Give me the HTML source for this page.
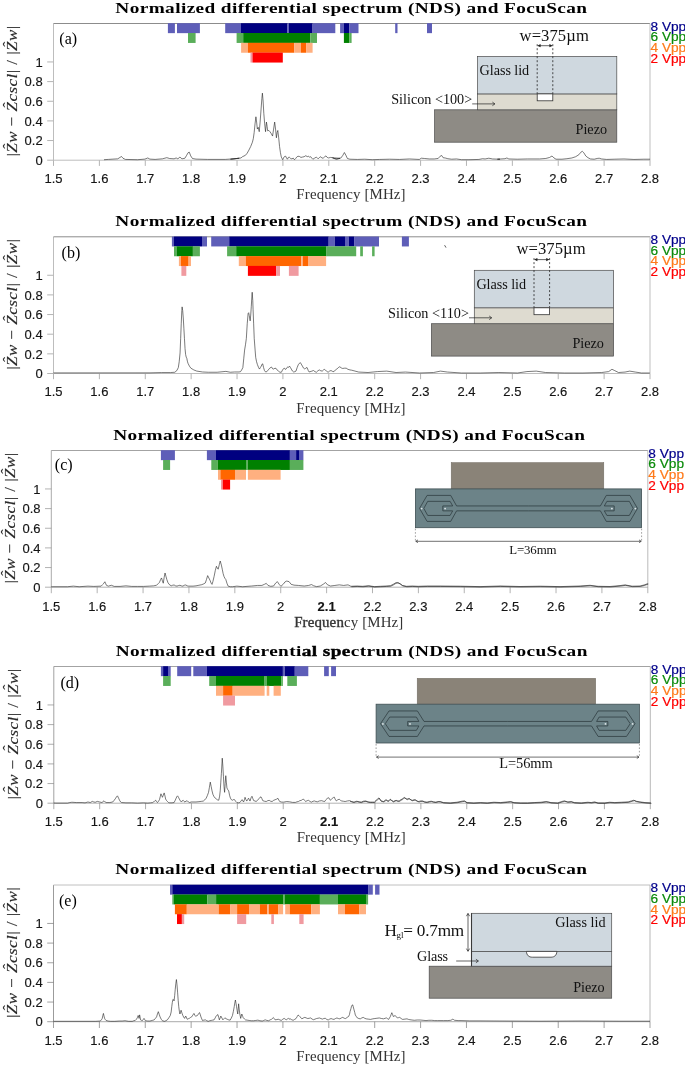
<!DOCTYPE html>
<html lang="en"><head><meta charset="utf-8"><title>Normalized differential spectrum (NDS) and FocuScan</title>
<style>html,body{margin:0;padding:0;background:#fff}body{width:685px;height:1065px;overflow:hidden}svg{display:block;will-change:transform}text{white-space:pre}</style></head><body>
<svg width="685" height="1065" viewBox="0 0 685 1065">
<rect width="685" height="1065" fill="#fff"/>
<!-- panel a -->
<g transform="translate(0,0)">
<text transform="translate(351.4,12.6) scale(1.27,1)" x="0" y="0" text-anchor="middle" font-family='"Liberation Serif", serif' font-weight="bold" font-size="15.2" letter-spacing="0.305" fill="#000">Normalized differential spectrum (NDS) and FocuScan</text>
<path d="M53.5 160.2V23.5" fill="none" stroke="#bdbdbd" stroke-width="1"/>
<path d="M53.5 23.5H650.0" fill="none" stroke="#8c8c8c" stroke-width="1"/>
<path d="M650.0 23.5V160.2" fill="none" stroke="#cacaca" stroke-width="1.2"/>
<path d="M53.5 160.2H650.0" fill="none" stroke="#bdbdbd" stroke-width="1"/>
<path d="M53.5 160.2v5.7M99.38 160.2v5.7M145.27 160.2v5.7M191.15 160.2v5.7M237.04 160.2v5.7M282.92 160.2v5.7M328.81 160.2v5.7M374.69 160.2v5.7M420.58 160.2v5.7M466.46 160.2v5.7M512.35 160.2v5.7M558.23 160.2v5.7M604.12 160.2v5.7M650 160.2v5.7M53.5 160.2h-6.3M53.5 140.55h-6.3M53.5 120.9h-6.3M53.5 101.25h-6.3M53.5 81.6h-6.3M53.5 61.95h-6.3" fill="none" stroke="#b4b4b4" stroke-width="1"/>
<g font-family='"Liberation Sans", sans-serif' font-size="13" fill="#141414" stroke="#141414" stroke-width="0.15">
<text x="53.5" y="183.2" text-anchor="middle">1.5</text>
<text x="99.38" y="183.2" text-anchor="middle">1.6</text>
<text x="145.27" y="183.2" text-anchor="middle">1.7</text>
<text x="191.15" y="183.2" text-anchor="middle">1.8</text>
<text x="237.04" y="183.2" text-anchor="middle">1.9</text>
<text x="282.92" y="183.2" text-anchor="middle">2</text>
<text x="328.81" y="183.2" text-anchor="middle">2.1</text>
<text x="374.69" y="183.2" text-anchor="middle">2.2</text>
<text x="420.58" y="183.2" text-anchor="middle">2.3</text>
<text x="466.46" y="183.2" text-anchor="middle">2.4</text>
<text x="512.35" y="183.2" text-anchor="middle">2.5</text>
<text x="558.23" y="183.2" text-anchor="middle">2.6</text>
<text x="604.12" y="183.2" text-anchor="middle">2.7</text>
<text x="650" y="183.2" text-anchor="middle">2.8</text>
<text x="42.7" y="164.9" text-anchor="end">0</text>
<text x="42.7" y="145.25" text-anchor="end">0.2</text>
<text x="42.7" y="125.6" text-anchor="end">0.4</text>
<text x="42.7" y="105.95" text-anchor="end">0.6</text>
<text x="42.7" y="86.3" text-anchor="end">0.8</text>
<text x="42.7" y="66.65" text-anchor="end">1</text>
</g>
<text transform="translate(351,198.8) scale(1.06,1)" text-anchor="middle" font-family='"Liberation Serif", serif' font-size="14.1" letter-spacing="0.12" fill="#333">Frequency [MHz]</text>
<g transform="translate(17.4,91.1) rotate(-90) scale(1.1,1)" font-family='"Liberation Serif", serif' font-size="15.5" fill="#2a2a2a" stroke="#2a2a2a" stroke-width="0.15">
<text x="-59.51" y="0" letter-spacing="0.41">|<tspan font-style="italic">Zw</tspan> &#x2212; <tspan font-style="italic">Zcscl</tspan>| / |<tspan font-style="italic">Zw</tspan>|</text>
<text x="-50.1" y="-4.6" text-anchor="middle" font-size="14">&#x2C6;</text>
<text x="-12.55" y="-4.6" text-anchor="middle" font-size="14">&#x2C6;</text>
<text x="42.55" y="-4.6" text-anchor="middle" font-size="14">&#x2C6;</text>
</g>
<text x="59.3" y="43.8" font-family='"Liberation Serif", serif' font-size="16" fill="#000">(a)</text>
<text transform="translate(650.5,30.7) scale(1.035,0.9)" font-family='"Liberation Sans", sans-serif' font-size="13.2" fill="#00008b" stroke="#00008b" stroke-width="0.2">8 Vpp</text>
<text transform="translate(650.5,41.35) scale(1.035,0.9)" font-family='"Liberation Sans", sans-serif' font-size="13.2" fill="#0a8a0a" stroke="#0a8a0a" stroke-width="0.2">6 Vpp</text>
<text transform="translate(650.5,52) scale(1.035,0.9)" font-family='"Liberation Sans", sans-serif' font-size="13.2" fill="#ff7a1a" stroke="#ff7a1a" stroke-width="0.2">4 Vpp</text>
<text transform="translate(650.5,62.65) scale(1.035,0.9)" font-family='"Liberation Sans", sans-serif' font-size="13.2" fill="#ff0000" stroke="#ff0000" stroke-width="0.2">2 Vpp</text>
</g>
<rect x="167.9" y="23.2" width="7" height="9.95" fill="#5e5eb8"/>
<rect x="177" y="23.2" width="22.9" height="9.95" fill="#5e5eb8"/>
<rect x="225.2" y="23.2" width="15.8" height="9.95" fill="#5e5eb8"/>
<rect x="241" y="23.2" width="46.5" height="9.95" fill="#000080"/>
<rect x="287.5" y="23.2" width="1.4" height="9.95" fill="#5e5eb8"/>
<rect x="288.9" y="23.2" width="23.7" height="9.95" fill="#000080"/>
<rect x="312.6" y="23.2" width="22.7" height="9.95" fill="#5e5eb8"/>
<rect x="340.1" y="23.2" width="3.8" height="9.95" fill="#5e5eb8"/>
<rect x="343.9" y="23.2" width="5.3" height="9.95" fill="#000080"/>
<rect x="349.2" y="23.2" width="9.3" height="9.95" fill="#5e5eb8"/>
<rect x="395.2" y="23.2" width="2.3" height="9.95" fill="#5e5eb8"/>
<rect x="427" y="23.2" width="5" height="9.95" fill="#5e5eb8"/>
<rect x="188" y="33" width="7.6" height="9.95" fill="#5aae5a"/>
<rect x="236.6" y="33" width="6.6" height="9.95" fill="#5aae5a"/>
<rect x="243.2" y="33" width="67.1" height="9.95" fill="#008000"/>
<rect x="310.3" y="33" width="6.7" height="9.95" fill="#5aae5a"/>
<rect x="343.9" y="33" width="5.3" height="9.95" fill="#008000"/>
<rect x="349.2" y="33" width="2.4" height="9.95" fill="#5aae5a"/>
<rect x="241.1" y="42.8" width="6.8" height="9.95" fill="#ffb080"/>
<rect x="247.9" y="42.8" width="46.3" height="9.95" fill="#ff6600"/>
<rect x="294.2" y="42.8" width="6.8" height="9.95" fill="#ffb080"/>
<rect x="301" y="42.8" width="5.1" height="9.95" fill="#ff6600"/>
<rect x="306.1" y="42.8" width="6.5" height="9.95" fill="#ffb080"/>
<rect x="250.5" y="52.6" width="2" height="9.95" fill="#f09aa0"/>
<rect x="252.5" y="52.6" width="30.3" height="9.95" fill="#ff0000"/>
<path d="M104.01,159.71 108.39,159.42 117.74,158.83 120.07,157.37 121.53,156.5 122.99,158.25 125.33,159.42 137.59,159.71 144.89,159.12 147.81,157.96 149.85,159.12 155.11,159.42 162.41,158.83 166.79,157.66 169.71,158.54 174.09,158.83 176.13,157.96 177.88,158.83 179.93,157.08 181.97,158.83 184.89,158.25 186.64,155.33 188.1,152.7 189.27,152.12 190.73,155.91 192.48,158.54 195.99,159.12 207.66,159.42 225.18,159.42 233.94,158.83 239.2,158.25 230.51,159.19 236.64,158.49 241.02,157.96 242.42,156.73 245.4,155.33 247.15,153.23 248.91,150.08 250.66,146.57 252.41,142.19 253.29,138.69 254.16,132.56 255.04,123.8 255.91,116.79 256.62,122.05 257.32,129.05 258.19,127.3 259.24,131.68 260.12,122.05 261.17,108.03 261.87,98.4 262.4,93.14 263.1,101.02 263.8,113.29 264.67,123.8 265.55,131.68 266.43,122.05 267.13,126.43 267.65,130.81 268.88,130.46 269.93,131.68 271.16,133.43 272.56,136.06 273.61,129.05 274.66,122.05 275.54,129.05 276.41,137.81 277.11,132.56 277.81,130.46 278.69,137.81 279.57,146.57 280.44,152.7 281.32,157.08 282.72,159.71 283.95,157.08 284.82,156.38 285.7,156.21 286.57,158.14 287.45,159.19 288.33,157.44 289.2,157.08 290.43,158.31 291.83,158.84 293.23,158.14 294.46,159.71 295.68,158.49 296.73,157.08 297.96,156.21 299.71,156.56 300.94,157.44 302.34,157.08 304.09,156.73 305.84,155.68 307.25,156.73 308.12,156.03 309.35,157.08 310.75,156.73 311.8,158.14 312.85,159.19 314.6,158.14 316.36,157.08 317.41,158.14 318.11,158.84 319.51,157.44 320.74,156.73 321.96,158.14 323.36,157.96 324.77,156.73 325.99,155.86 327.22,157.44 328.62,157.96 330.37,157.44 332.12,157.61 334.23,158.49 336.5,159.19 338.26,158.49 340.01,158.31 332.48,157.72 334.96,158.71 337.94,158.96 340.92,157.97 342.9,155.24 344.39,152.51 345.88,155.24 347.37,158.46 349.85,159.21 357.3,159.45 364.74,159.21 372.18,159.7 379.63,159.45 389.55,159.21 399.48,159.45 409.4,158.96 419.33,159.45 421.32,158.21 424.29,158.46 429.26,158.96 434.22,158.96 438.19,158.46 440.17,156.23 441.66,155.48 443.15,157.72 445.14,157.97 447.87,158.71 451.59,159.21 456.55,158.96 461.51,159.7 468.96,159.7 478.88,159.45 482.61,158.71 485.09,158.96 488.81,158.21 492.53,158.96 499.98,159.21 497.44,159.21 504.89,158.71 506.87,157.97 508.86,158.96 517.3,159.21 527.22,158.96 539.63,158.96 545.83,158.46 549.55,157.47 552.03,155.98 554.02,157.97 556,159.21 561.96,159.21 566.92,158.71 571.89,157.97 575.61,156.72 578.83,154.74 580.82,152.26 582.31,151.27 583.8,152.75 585.78,155.98 588.01,157.72 590.5,158.96 594.22,159.21 597.2,158.46 599.18,158.21 601.66,158.96 606.63,159.45 614.07,159.21 624,158.96 633.92,159.45 643.85,159.21 650.05,159.21" fill="none" stroke="#222" stroke-width="0.6" stroke-linejoin="round"/>
<g transform="translate(0,0)">
<rect x="434.6" y="109.8" width="182.2" height="32.4" fill="#8e8b85" stroke="#4a4a4a" stroke-width="0.7"/>
<rect x="477.5" y="93.9" width="139.3" height="15.9" fill="#dedbd0" stroke="#4a4a4a" stroke-width="0.7"/>
<rect x="477.5" y="56.4" width="139.3" height="37.5" fill="#cfd8df" stroke="#4a4a4a" stroke-width="0.7"/>
<rect x="537.2" y="93.9" width="15.6" height="6.9" fill="#fff" stroke="#333" stroke-width="0.8"/>
<path d="M537.2 44.2V93.6M552.8 44.2V93.6" fill="none" stroke="#222" stroke-width="0.8" stroke-dasharray="2 2"/>
<path d="M538.6 45.7H551.4" fill="none" stroke="#222" stroke-width="0.7"/>
<path d="M537.3 45.7L540.6 44.1V47.3ZM552.7 45.7L549.4 44.1V47.3Z" fill="#222"/>
<g font-family='"Liberation Serif", serif' fill="#111">
<text x="519.6" y="40.5" font-size="16.6" textLength="69.2" lengthAdjust="spacing">w=375&#xB5;m</text>
<text x="479.6" y="75.0" font-size="14.2" textLength="49.6" lengthAdjust="spacing">Glass lid</text>
<text x="391.2" y="104.2" font-size="14.2" textLength="81" lengthAdjust="spacing">Silicon &lt;100&gt;</text>
<text x="575.6" y="134.2" font-size="14.2" textLength="31.4" lengthAdjust="spacing">Piezo</text>
</g>
<path d="M472.2 103.9H494.8M492.4 102.1L494.9 103.9L492.4 105.7" fill="none" stroke="#222" stroke-width="0.7"/>
</g>
<!-- panel b -->
<g transform="translate(0,213.3)">
<text transform="translate(351.4,12.6) scale(1.27,1)" x="0" y="0" text-anchor="middle" font-family='"Liberation Serif", serif' font-weight="bold" font-size="15.2" letter-spacing="0.305" fill="#000">Normalized differential spectrum (NDS) and FocuScan</text>
<path d="M53.5 160.2V23.5" fill="none" stroke="#bdbdbd" stroke-width="1"/>
<path d="M53.5 23.5H650.0" fill="none" stroke="#8c8c8c" stroke-width="1"/>
<path d="M650.0 23.5V160.2" fill="none" stroke="#cacaca" stroke-width="1.2"/>
<path d="M53.5 160.2H650.0" fill="none" stroke="#bdbdbd" stroke-width="1"/>
<path d="M53.5 160.2v5.7M99.38 160.2v5.7M145.27 160.2v5.7M191.15 160.2v5.7M237.04 160.2v5.7M282.92 160.2v5.7M328.81 160.2v5.7M374.69 160.2v5.7M420.58 160.2v5.7M466.46 160.2v5.7M512.35 160.2v5.7M558.23 160.2v5.7M604.12 160.2v5.7M650 160.2v5.7M53.5 160.2h-6.3M53.5 140.55h-6.3M53.5 120.9h-6.3M53.5 101.25h-6.3M53.5 81.6h-6.3M53.5 61.95h-6.3" fill="none" stroke="#b4b4b4" stroke-width="1"/>
<g font-family='"Liberation Sans", sans-serif' font-size="13" fill="#141414" stroke="#141414" stroke-width="0.15">
<text x="53.5" y="183.2" text-anchor="middle">1.5</text>
<text x="99.38" y="183.2" text-anchor="middle">1.6</text>
<text x="145.27" y="183.2" text-anchor="middle">1.7</text>
<text x="191.15" y="183.2" text-anchor="middle">1.8</text>
<text x="237.04" y="183.2" text-anchor="middle">1.9</text>
<text x="282.92" y="183.2" text-anchor="middle">2</text>
<text x="328.81" y="183.2" text-anchor="middle">2.1</text>
<text x="374.69" y="183.2" text-anchor="middle">2.2</text>
<text x="420.58" y="183.2" text-anchor="middle">2.3</text>
<text x="466.46" y="183.2" text-anchor="middle">2.4</text>
<text x="512.35" y="183.2" text-anchor="middle">2.5</text>
<text x="558.23" y="183.2" text-anchor="middle">2.6</text>
<text x="604.12" y="183.2" text-anchor="middle">2.7</text>
<text x="650" y="183.2" text-anchor="middle">2.8</text>
<text x="42.7" y="164.9" text-anchor="end">0</text>
<text x="42.7" y="145.25" text-anchor="end">0.2</text>
<text x="42.7" y="125.6" text-anchor="end">0.4</text>
<text x="42.7" y="105.95" text-anchor="end">0.6</text>
<text x="42.7" y="86.3" text-anchor="end">0.8</text>
<text x="42.7" y="66.65" text-anchor="end">1</text>
</g>
<text transform="translate(351,199.3) scale(1.06,1)" text-anchor="middle" font-family='"Liberation Serif", serif' font-size="14.1" letter-spacing="0.12" fill="#333">Frequency [MHz]</text>
<g transform="translate(17.4,91.1) rotate(-90) scale(1.1,1)" font-family='"Liberation Serif", serif' font-size="15.5" fill="#2a2a2a" stroke="#2a2a2a" stroke-width="0.15">
<text x="-59.51" y="0" letter-spacing="0.41">|<tspan font-style="italic">Zw</tspan> &#x2212; <tspan font-style="italic">Zcscl</tspan>| / |<tspan font-style="italic">Zw</tspan>|</text>
<text x="-50.1" y="-4.6" text-anchor="middle" font-size="14">&#x2C6;</text>
<text x="-12.55" y="-4.6" text-anchor="middle" font-size="14">&#x2C6;</text>
<text x="42.55" y="-4.6" text-anchor="middle" font-size="14">&#x2C6;</text>
</g>
<text x="61.6" y="45.0" font-family='"Liberation Serif", serif' font-size="16" fill="#000">(b)</text>
<text transform="translate(650.5,30.7) scale(1.035,0.9)" font-family='"Liberation Sans", sans-serif' font-size="13.2" fill="#00008b" stroke="#00008b" stroke-width="0.2">8 Vpp</text>
<text transform="translate(650.5,41.35) scale(1.035,0.9)" font-family='"Liberation Sans", sans-serif' font-size="13.2" fill="#0a8a0a" stroke="#0a8a0a" stroke-width="0.2">6 Vpp</text>
<text transform="translate(650.5,52) scale(1.035,0.9)" font-family='"Liberation Sans", sans-serif' font-size="13.2" fill="#ff7a1a" stroke="#ff7a1a" stroke-width="0.2">4 Vpp</text>
<text transform="translate(650.5,62.65) scale(1.035,0.9)" font-family='"Liberation Sans", sans-serif' font-size="13.2" fill="#ff0000" stroke="#ff0000" stroke-width="0.2">2 Vpp</text>
</g>
<rect x="171.9" y="236.5" width="2.1" height="9.95" fill="#5e5eb8"/>
<rect x="174" y="236.5" width="28" height="9.95" fill="#000080"/>
<rect x="202" y="236.5" width="5" height="9.95" fill="#5e5eb8"/>
<rect x="211.2" y="236.5" width="18" height="9.95" fill="#5e5eb8"/>
<rect x="229.2" y="236.5" width="99.5" height="9.95" fill="#000080"/>
<rect x="328.7" y="236.5" width="6.1" height="9.95" fill="#5e5eb8"/>
<rect x="334.8" y="236.5" width="10.2" height="9.95" fill="#000080"/>
<rect x="345" y="236.5" width="3.8" height="9.95" fill="#5e5eb8"/>
<rect x="348.8" y="236.5" width="5.3" height="9.95" fill="#000080"/>
<rect x="354.1" y="236.5" width="24.9" height="9.95" fill="#5e5eb8"/>
<rect x="401.9" y="236.5" width="7" height="9.95" fill="#5e5eb8"/>
<rect x="174" y="246.3" width="2.6" height="9.95" fill="#5aae5a"/>
<rect x="176.6" y="246.3" width="16.3" height="9.95" fill="#008000"/>
<rect x="192.9" y="246.3" width="7" height="9.95" fill="#5aae5a"/>
<rect x="227.1" y="246.3" width="9.1" height="9.95" fill="#5aae5a"/>
<rect x="236.2" y="246.3" width="89.9" height="9.95" fill="#008000"/>
<rect x="326.1" y="246.3" width="30.1" height="9.95" fill="#5aae5a"/>
<rect x="360.2" y="246.3" width="2.7" height="9.95" fill="#5aae5a"/>
<rect x="372.1" y="246.3" width="2.5" height="9.95" fill="#5aae5a"/>
<rect x="178.9" y="256.1" width="2.1" height="9.95" fill="#ffb080"/>
<rect x="181" y="256.1" width="7.6" height="9.95" fill="#ff6600"/>
<rect x="188.6" y="256.1" width="2.4" height="9.95" fill="#ffb080"/>
<rect x="238.8" y="256.1" width="7" height="9.95" fill="#ffb080"/>
<rect x="245.8" y="256.1" width="55.4" height="9.95" fill="#ff6600"/>
<rect x="301.2" y="256.1" width="1.7" height="9.95" fill="#ffb080"/>
<rect x="302.9" y="256.1" width="5.1" height="9.95" fill="#ff6600"/>
<rect x="308" y="256.1" width="18.1" height="9.95" fill="#ffb080"/>
<rect x="181.4" y="265.9" width="4.9" height="9.95" fill="#f09aa0"/>
<rect x="247.9" y="265.9" width="28.2" height="9.95" fill="#ff0000"/>
<rect x="276.1" y="265.9" width="3.9" height="9.95" fill="#f09aa0"/>
<rect x="288.9" y="265.9" width="9.7" height="9.95" fill="#f09aa0"/>
<path d="M53.5,372.9 150,372.85 161.68,372.55 170.44,372.55 174.82,372.26 176.86,370.51 178.32,367.59 179.2,361.75 180.07,352.99 180.66,338.39 181.24,323.8 181.82,310.66 182.12,306.86 182.7,310.66 183.28,317.96 183.87,328.18 184.45,338.39 185.04,348.61 185.62,354.45 186.2,357.08 186.79,358.25 187.37,361.17 187.96,363.21 189.42,366.13 190.88,368.18 193.8,369.93 196.72,371.09 202.55,371.97 208.39,372.26 217.15,372.26 225.91,371.39 230.29,372.26 234.67,371.97 239.05,371.97 240.51,371.68 241.68,369.93 242.85,367.59 243.72,358.83 244.6,350.07 245.47,344.82 246.35,338.39 247.23,323.8 248.1,313.58 248.69,312.7 249.27,315.62 250.15,320.88 250.73,315.04 251.31,306.28 251.9,296.06 252.19,292.26 252.77,300.44 253.07,309.2 253.65,323.8 254.23,338.39 255.11,350.07 255.69,357.37 256.57,361.75 257.45,364.67 258.61,367.59 259.49,369.05 260.36,367.59 261.24,366.13 262.12,364.09 262.7,363.8 263.58,367.59 264.45,370.51 265.62,371.97 266.79,371.68 268.25,369.93 269.71,368.18 271.46,367.01 272.63,368.76 273.8,369.05 274.96,368.18 276.13,368.47 277.3,370.22 278.47,371.09 279.93,372.26 281.39,372.26 282.85,369.34 284.31,368.18 285.18,369.34 286.06,369.05 286.93,367.59 287.81,367.01 288.69,367.3 289.56,366.13 290.44,367.59 291.31,369.05 292.48,371.09 293.65,371.97 294.82,371.68 295.99,371.09 297.15,367.59 298.32,364.67 299.49,363.21 300.36,362.63 301.24,364.09 302.41,366.13 303.58,368.18 304.74,369.05 305.91,367.88 307.08,367.59 308.25,370.51 309.12,371.97 311.17,371.39 313.5,370.51 314.96,371.68 316.42,372.26 317.88,370.8 319.34,369.93 320.8,370.8 322.26,371.09 323.43,369.93 324.6,369.34 326.35,371.09 328.1,372.26 329.56,371.09 331.02,370.51 332.48,371.39 333.94,371.68 335.4,369.93 336.86,369.05 338.32,367.59 339.78,366.72 341.24,367.88 342.7,368.47 344.45,368.18 346.2,368.18 347.96,369.34 350,369.93 351.68,370.19 358.69,372.06 368.04,372.52 377.38,371.59 386.73,371.12 396.07,372.52 405.42,372.06 419.44,372.99 433.46,372.52 440.47,371.12 447.48,372.06 461.5,372.99 480.19,372.99 498.88,372.52 517.57,372.99 526.92,371.59 536.26,371.12 545.61,372.52 564.3,372.99 582.99,372.99 601.68,372.52 608.69,371.59 611.96,369.25 614.77,370.65 618.5,372.52 625.05,372.06 629.72,371.12 635.33,372.06 641.4,372.99 649.81,372.99" fill="none" stroke="#222" stroke-width="0.6" stroke-linejoin="round"/>
<g transform="translate(-3.2,213.9)">
<rect x="434.6" y="109.8" width="182.2" height="32.4" fill="#8e8b85" stroke="#4a4a4a" stroke-width="0.7"/>
<rect x="477.5" y="93.9" width="139.3" height="15.9" fill="#dedbd0" stroke="#4a4a4a" stroke-width="0.7"/>
<rect x="477.5" y="56.4" width="139.3" height="37.5" fill="#cfd8df" stroke="#4a4a4a" stroke-width="0.7"/>
<rect x="537.2" y="93.9" width="15.6" height="6.9" fill="#fff" stroke="#333" stroke-width="0.8"/>
<path d="M537.2 44.2V93.6M552.8 44.2V93.6" fill="none" stroke="#222" stroke-width="0.8" stroke-dasharray="2 2"/>
<path d="M538.6 45.7H551.4" fill="none" stroke="#222" stroke-width="0.7"/>
<path d="M537.3 45.7L540.6 44.1V47.3ZM552.7 45.7L549.4 44.1V47.3Z" fill="#222"/>
<g font-family='"Liberation Serif", serif' fill="#111">
<text x="519.6" y="40.5" font-size="16.6" textLength="69.2" lengthAdjust="spacing">w=375&#xB5;m</text>
<text x="479.6" y="75.0" font-size="14.2" textLength="49.6" lengthAdjust="spacing">Glass lid</text>
<text x="391.2" y="104.2" font-size="14.2" textLength="81" lengthAdjust="spacing">Silicon &lt;110&gt;</text>
<text x="575.6" y="134.2" font-size="14.2" textLength="31.4" lengthAdjust="spacing">Piezo</text>
</g>
<path d="M472.2 103.9H494.8M492.4 102.1L494.9 103.9L492.4 105.7" fill="none" stroke="#222" stroke-width="0.7"/>
</g>
<path d="M444.6 245.2L446 247.6" stroke="#333" stroke-width="0.8" fill="none"/>
<!-- panel c -->
<g transform="translate(-2.2,427)">
<text transform="translate(351.4,12.6) scale(1.27,1)" x="0" y="0" text-anchor="middle" font-family='"Liberation Serif", serif' font-weight="bold" font-size="15.2" letter-spacing="0.305" fill="#000">Normalized differential spectrum (NDS) and FocuScan</text>
<path d="M53.5 160.2V23.5" fill="none" stroke="#7c7c7c" stroke-width="0.65"/>
<path d="M53.5 23.5H650.0" fill="none" stroke="#8c8c8c" stroke-width="0.8"/>
<path d="M650.0 23.5V160.2" fill="none" stroke="#a8a8a8" stroke-width="0.8"/>
<path d="M53.5 160.2H650.0" fill="none" stroke="#8a8a8a" stroke-width="0.65"/>
<path d="M53.5 160.2v6.0M99.38 160.2v6.0M145.27 160.2v6.0M191.15 160.2v6.0M237.04 160.2v6.0M282.92 160.2v6.0M328.81 160.2v6.0M374.69 160.2v6.0M420.58 160.2v6.0M466.46 160.2v6.0M512.35 160.2v6.0M558.23 160.2v6.0M604.12 160.2v6.0M650 160.2v6.0M53.5 160.2h-6.3M53.5 140.55h-6.3M53.5 120.9h-6.3M53.5 101.25h-6.3M53.5 81.6h-6.3M53.5 61.95h-6.3" fill="none" stroke="#8a8a8a" stroke-width="0.65"/>
<g font-family='"Liberation Sans", sans-serif' font-size="13" fill="#141414" stroke="#141414" stroke-width="0.15">
<text x="53.5" y="184.0" text-anchor="middle">1.5</text>
<text x="99.38" y="184.0" text-anchor="middle">1.6</text>
<text x="145.27" y="184.0" text-anchor="middle">1.7</text>
<text x="191.15" y="184.0" text-anchor="middle">1.8</text>
<text x="237.04" y="184.0" text-anchor="middle">1.9</text>
<text x="282.92" y="184.0" text-anchor="middle">2</text>
<text x="328.81" y="184.0" text-anchor="middle" font-weight="bold">2.1</text>
<text x="374.69" y="184.0" text-anchor="middle">2.2</text>
<text x="420.58" y="184.0" text-anchor="middle">2.3</text>
<text x="466.46" y="184.0" text-anchor="middle">2.4</text>
<text x="512.35" y="184.0" text-anchor="middle">2.5</text>
<text x="558.23" y="184.0" text-anchor="middle">2.6</text>
<text x="604.12" y="184.0" text-anchor="middle">2.7</text>
<text x="650" y="184.0" text-anchor="middle">2.8</text>
<text x="42.7" y="164.9" text-anchor="end">0</text>
<text x="42.7" y="145.25" text-anchor="end">0.2</text>
<text x="42.7" y="125.6" text-anchor="end">0.4</text>
<text x="42.7" y="105.95" text-anchor="end">0.6</text>
<text x="42.7" y="86.3" text-anchor="end">0.8</text>
<text x="42.7" y="66.65" text-anchor="end">1</text>
</g>
<text transform="translate(351,199.8) scale(1.06,1)" text-anchor="middle" font-family='"Liberation Serif", serif' font-size="14.1" letter-spacing="0.12" fill="#333"><tspan stroke="#333" stroke-width="0.35">Frequen</tspan>cy [MHz]</text>
<g transform="translate(17.4,91.1) rotate(-90) scale(1.1,1)" font-family='"Liberation Serif", serif' font-size="15.5" fill="#2a2a2a" stroke="#2a2a2a" stroke-width="0.15">
<text x="-59.51" y="0" letter-spacing="0.41">|<tspan font-style="italic">Zw</tspan> &#x2212; <tspan font-style="italic">Zcscl</tspan>| / |<tspan font-style="italic">Zw</tspan>|</text>
<text x="-50.1" y="-4.6" text-anchor="middle" font-size="14">&#x2C6;</text>
<text x="-12.55" y="-4.6" text-anchor="middle" font-size="14">&#x2C6;</text>
<text x="42.55" y="-4.6" text-anchor="middle" font-size="14">&#x2C6;</text>
</g>
<text x="57.0" y="43.4" font-family='"Liberation Serif", serif' font-size="16" fill="#000">(c)</text>
<text transform="translate(650.5,30.7) scale(1.035,0.9)" font-family='"Liberation Sans", sans-serif' font-size="13.2" fill="#00008b" stroke="#00008b" stroke-width="0.2">8 Vpp</text>
<text transform="translate(650.5,41.35) scale(1.035,0.9)" font-family='"Liberation Sans", sans-serif' font-size="13.2" fill="#0a8a0a" stroke="#0a8a0a" stroke-width="0.2">6 Vpp</text>
<text transform="translate(650.5,52) scale(1.035,0.9)" font-family='"Liberation Sans", sans-serif' font-size="13.2" fill="#ff7a1a" stroke="#ff7a1a" stroke-width="0.2">4 Vpp</text>
<text transform="translate(650.5,62.65) scale(1.035,0.9)" font-family='"Liberation Sans", sans-serif' font-size="13.2" fill="#ff0000" stroke="#ff0000" stroke-width="0.2">2 Vpp</text>
</g>
<rect x="160.9" y="450.2" width="14" height="9.95" fill="#5e5eb8"/>
<rect x="206.9" y="450.2" width="9.1" height="9.95" fill="#5e5eb8"/>
<rect x="216" y="450.2" width="73.9" height="9.95" fill="#000080"/>
<rect x="289.9" y="450.2" width="6.2" height="9.95" fill="#5e5eb8"/>
<rect x="296.1" y="450.2" width="2.9" height="9.95" fill="#000080"/>
<rect x="299" y="450.2" width="4.4" height="9.95" fill="#5e5eb8"/>
<rect x="163.1" y="460" width="7" height="9.95" fill="#5aae5a"/>
<rect x="211.3" y="460" width="6.5" height="9.95" fill="#5aae5a"/>
<rect x="217.8" y="460" width="28.2" height="9.95" fill="#008000"/>
<rect x="246" y="460" width="1.8" height="9.95" fill="#5aae5a"/>
<rect x="247.8" y="460" width="42.1" height="9.95" fill="#008000"/>
<rect x="289.9" y="460" width="13.5" height="9.95" fill="#5aae5a"/>
<rect x="218" y="469.8" width="2.4" height="9.95" fill="#ffb080"/>
<rect x="220.4" y="469.8" width="14.6" height="9.95" fill="#ff6600"/>
<rect x="235" y="469.8" width="11" height="9.95" fill="#ffb080"/>
<rect x="247.9" y="469.8" width="32.7" height="9.95" fill="#ffb080"/>
<rect x="221" y="479.6" width="1.7" height="9.95" fill="#f09aa0"/>
<rect x="222.7" y="479.6" width="7.4" height="9.95" fill="#ff0000"/>
<path d="M51.3,586.8 52.92,586.72 67.52,586.72 73.36,586.13 79.2,586.72 87.96,586.13 93.8,586.42 101.09,586.13 102.55,584.67 103.43,583.8 104.89,581.75 105.77,583.8 106.35,585.26 108.39,586.13 111.31,585.26 114.23,586.42 120.07,586.42 125.91,585.84 131.75,586.42 137.59,586.42 143.43,586.42 149.27,586.13 153.65,585.84 156.57,585.26 158.03,583.8 159.49,582.34 160.66,579.42 161.53,577.96 162.41,580.88 163.28,583.21 164.16,577.37 165.04,572.99 165.91,576.2 166.79,579.42 167.96,582.63 169.12,584.38 171.17,585.84 172.63,585.26 174.09,584.96 175.55,585.84 177.01,586.13 178.47,585.55 179.93,585.26 181.39,585.84 182.85,586.13 184.31,585.26 185.77,584.96 187.23,585.84 188.69,586.13 193.07,586.13 195.99,585.84 198.91,585.26 201.82,584.67 203.87,583.8 205.33,582.92 206.5,579.42 207.66,575.62 208.83,577.96 210,580.29 211.17,583.21 212.04,584.38 212.92,581.46 214.09,576.5 215.26,570.66 216.42,566.28 217.3,568.03 218.18,569.2 219.34,564.53 220.22,561.02 221.39,565.11 222.26,569.2 223.14,573.58 224.01,576.5 224.89,578.25 225.77,579.42 226.93,583.21 228.1,586.13 230.44,586.72 232.48,586.72 236.86,586.13 242.7,586.72 250,586.13 251.68,586.02 257.52,585.44 261.9,585.44 264.53,584.27 266.28,583.39 268.03,585.44 270.66,586.31 273.58,586.02 275.62,583.1 277.37,581.64 279.12,584.27 280.88,586.31 283.21,584.27 284.96,581.93 286.72,581.06 289.05,581.64 291.09,584.27 294.01,585.15 298.39,585.44 304.23,586.02 308.61,585.44 311.53,584.56 313.58,585.73 316.5,586.61 320.29,586.02 323.21,584.27 325.55,582.52 327.59,584.85 330.51,586.02 334.89,585.44 339.27,584.85 343.65,585.44 348.03,584.85 350.95,586.31 356.79,586.02 362.63,586.31 368.47,585.73 374.31,586.61 380.15,586.31 385.99,586.02 390.36,585.73 393.28,584.27 395.62,582.81 397.66,582.52 400,583.69 402.34,585.44 406.42,586.31 412.26,586.02 418.1,586.31 426.86,586.02 440,586.02 460,586.2 480,586.6 500,586 520,586.5 540,586.2 560,586.6 580,586 590,585.3 598,586.3 610,586.5 620,585.6 625,584.9 632,586.2 640,586 644,585 647.8,583.6" fill="none" stroke="#222" stroke-width="0.6" stroke-linejoin="round"/>
<path d="M351.45,586.76 357.29,586.47 363.13,586.76 368.97,586.18 374.81,587.06 380.65,586.76 386.49,586.47 390.86,586.18 393.78,584.72 396.12,583.26 398.16,582.97 400.5,584.14 402.84,585.89 406.92,586.76 412.76,586.47 418.6,586.76 427.36,586.47 440.5,586.47 460.5,586.65 480.5,587.05 500.5,586.45 520.5,586.95 540.5,586.65 560.5,587.05 580.5,586.45 590.5,585.75 598.5,586.75 610.5,586.95 620.5,586.05 625.5,585.35 632.5,586.65 640.5,586.45 644.5,585.45 648.3,584.05" fill="none" stroke="#222" stroke-width="0.6" stroke-linejoin="round"/>
<rect x="451.2" y="462.6" width="152.6" height="26.3" fill="#8a8378" stroke="#6e685f" stroke-width="0.5"/>
<rect x="415.4" y="488.9" width="226.2" height="38.8" fill="#6c8388" stroke="#3f4f53" stroke-width="0.8"/>
<path d="M419.5 508.4 L427.1 495.4 L450.7 495.4 L456.6 505.95 L528.5 505.95 M528.5 510.85 L456.6 510.85 L450.7 521.4 L427.1 521.4 L419.5 508.4 M423.8 508.4 L427.7 501.35 L450.1 501.35 L452.7 505.95 L442.8 505.95 L442.8 510.85 L452.7 510.85 L450.1 515.45 L427.7 515.45Z" fill="none" stroke="#2c3a3e" stroke-width="0.75" stroke-linejoin="round"/>
<circle cx="421.65" cy="508.6" r="0.9" fill="#dfe6e8"/>
<circle cx="445.1" cy="508.6" r="0.9" fill="#dfe6e8"/>
<path d="M637.5 508.4 L629.9 495.4 L606.3 495.4 L600.4 505.95 L528.5 505.95 M528.5 510.85 L600.4 510.85 L606.3 521.4 L629.9 521.4 L637.5 508.4 M633.2 508.4 L629.3 501.35 L606.9 501.35 L604.3 505.95 L614.2 505.95 L614.2 510.85 L604.3 510.85 L606.9 515.45 L629.3 515.45Z" fill="none" stroke="#2c3a3e" stroke-width="0.75" stroke-linejoin="round"/>
<circle cx="635.35" cy="508.6" r="0.9" fill="#dfe6e8"/>
<circle cx="611.9" cy="508.6" r="0.9" fill="#dfe6e8"/>
<path d="M415.4 528.7V541.3M641.6 528.7V541.3" fill="none" stroke="#777" stroke-width="0.7" stroke-dasharray="1.6 1.8"/>
<path d="M415.8 541.3H641.2M418 539.9L415.8 541.3L418 542.7M639 539.9L641.2 541.3L639 542.7" fill="none" stroke="#333" stroke-width="0.7"/>
<text x="509.2" y="554.4" font-family='"Liberation Serif", serif' font-size="12.9" textLength="47.4" lengthAdjust="spacing" fill="#111">L=36mm</text>
<!-- panel d -->
<g transform="translate(0.3,643)">
<text transform="translate(351.4,12.6) scale(1.27,1)" x="0" y="0" text-anchor="middle" font-family='"Liberation Serif", serif' font-weight="bold" font-size="15.2" letter-spacing="0.305" fill="#000">Normalized differenti<tspan stroke="#000" stroke-width="0.4">al spe</tspan>ctrum (NDS) and FocuScan</text>
<path d="M53.5 160.2V23.5" fill="none" stroke="#606060" stroke-width="0.6"/>
<path d="M53.5 23.5H650.0" fill="none" stroke="#8c8c8c" stroke-width="0.8"/>
<path d="M650.0 23.5V160.2" fill="none" stroke="#b0b0b0" stroke-width="0.9"/>
<path d="M53.5 160.2H650.0" fill="none" stroke="#808080" stroke-width="0.6"/>
<path d="M53.5 160.2v6.0M99.38 160.2v6.0M145.27 160.2v6.0M191.15 160.2v6.0M237.04 160.2v6.0M282.92 160.2v6.0M328.81 160.2v6.0M374.69 160.2v6.0M420.58 160.2v6.0M466.46 160.2v6.0M512.35 160.2v6.0M558.23 160.2v6.0M604.12 160.2v6.0M650 160.2v6.0M53.5 160.2h-6.3M53.5 140.55h-6.3M53.5 120.9h-6.3M53.5 101.25h-6.3M53.5 81.6h-6.3M53.5 61.95h-6.3" fill="none" stroke="#808080" stroke-width="0.65"/>
<g font-family='"Liberation Sans", sans-serif' font-size="13" fill="#141414" stroke="#141414" stroke-width="0.15">
<text x="53.5" y="183.2" text-anchor="middle">1.5</text>
<text x="99.38" y="183.2" text-anchor="middle">1.6</text>
<text x="145.27" y="183.2" text-anchor="middle">1.7</text>
<text x="191.15" y="183.2" text-anchor="middle">1.8</text>
<text x="237.04" y="183.2" text-anchor="middle">1.9</text>
<text x="282.92" y="183.2" text-anchor="middle">2</text>
<text x="328.81" y="183.2" text-anchor="middle" font-weight="bold">2.1</text>
<text x="374.69" y="183.2" text-anchor="middle">2.2</text>
<text x="420.58" y="183.2" text-anchor="middle">2.3</text>
<text x="466.46" y="183.2" text-anchor="middle">2.4</text>
<text x="512.35" y="183.2" text-anchor="middle">2.5</text>
<text x="558.23" y="183.2" text-anchor="middle">2.6</text>
<text x="604.12" y="183.2" text-anchor="middle">2.7</text>
<text x="650" y="183.2" text-anchor="middle">2.8</text>
<text x="42.7" y="164.9" text-anchor="end">0</text>
<text x="42.7" y="145.25" text-anchor="end">0.2</text>
<text x="42.7" y="125.6" text-anchor="end">0.4</text>
<text x="42.7" y="105.95" text-anchor="end">0.6</text>
<text x="42.7" y="86.3" text-anchor="end">0.8</text>
<text x="42.7" y="66.65" text-anchor="end">1</text>
</g>
<text transform="translate(351,199.3) scale(1.06,1)" text-anchor="middle" font-family='"Liberation Serif", serif' font-size="14.1" letter-spacing="0.12" fill="#333">Frequency [MHz]</text>
<g transform="translate(17.4,91.1) rotate(-90) scale(1.1,1)" font-family='"Liberation Serif", serif' font-size="15.5" fill="#2a2a2a" stroke="#2a2a2a" stroke-width="0.15">
<text x="-59.51" y="0" letter-spacing="0.41">|<tspan font-style="italic">Zw</tspan> &#x2212; <tspan font-style="italic">Zcscl</tspan>| / |<tspan font-style="italic">Zw</tspan>|</text>
<text x="-50.1" y="-4.6" text-anchor="middle" font-size="14">&#x2C6;</text>
<text x="-12.55" y="-4.6" text-anchor="middle" font-size="14">&#x2C6;</text>
<text x="42.55" y="-4.6" text-anchor="middle" font-size="14">&#x2C6;</text>
</g>
<text x="60.2" y="45.3" font-family='"Liberation Serif", serif' font-size="16" fill="#000">(d)</text>
<text transform="translate(650.5,30.7) scale(1.035,0.9)" font-family='"Liberation Sans", sans-serif' font-size="13.2" fill="#00008b" stroke="#00008b" stroke-width="0.2">8 Vpp</text>
<text transform="translate(650.5,41.35) scale(1.035,0.9)" font-family='"Liberation Sans", sans-serif' font-size="13.2" fill="#0a8a0a" stroke="#0a8a0a" stroke-width="0.2">6 Vpp</text>
<text transform="translate(650.5,52) scale(1.035,0.9)" font-family='"Liberation Sans", sans-serif' font-size="13.2" fill="#ff7a1a" stroke="#ff7a1a" stroke-width="0.2">4 Vpp</text>
<text transform="translate(650.5,62.65) scale(1.035,0.9)" font-family='"Liberation Sans", sans-serif' font-size="13.2" fill="#ff0000" stroke="#ff0000" stroke-width="0.2">2 Vpp</text>
</g>
<rect x="160.9" y="666.2" width="2.2" height="9.95" fill="#5e5eb8"/>
<rect x="163.1" y="666.2" width="4.9" height="9.95" fill="#000080"/>
<rect x="168" y="666.2" width="2.7" height="9.95" fill="#5e5eb8"/>
<rect x="177.2" y="666.2" width="14" height="9.95" fill="#5e5eb8"/>
<rect x="193.3" y="666.2" width="13.6" height="9.95" fill="#5e5eb8"/>
<rect x="206.9" y="666.2" width="76" height="9.95" fill="#000080"/>
<rect x="282.9" y="666.2" width="1.8" height="9.95" fill="#5e5eb8"/>
<rect x="284.7" y="666.2" width="10.1" height="9.95" fill="#000080"/>
<rect x="294.8" y="666.2" width="13.5" height="9.95" fill="#5e5eb8"/>
<rect x="324.1" y="666.2" width="4.7" height="9.95" fill="#5e5eb8"/>
<rect x="331.1" y="666.2" width="4.9" height="9.95" fill="#5e5eb8"/>
<rect x="163.1" y="676" width="7.6" height="9.95" fill="#5aae5a"/>
<rect x="209.2" y="676" width="6.8" height="9.95" fill="#5aae5a"/>
<rect x="216" y="676" width="48.6" height="9.95" fill="#008000"/>
<rect x="264.6" y="676" width="2" height="9.95" fill="#5aae5a"/>
<rect x="266.6" y="676" width="14.6" height="9.95" fill="#008000"/>
<rect x="281.2" y="676" width="1.7" height="9.95" fill="#5aae5a"/>
<rect x="287.3" y="676" width="9.6" height="9.95" fill="#5aae5a"/>
<rect x="216" y="685.8" width="7.1" height="9.95" fill="#ffb080"/>
<rect x="223.1" y="685.8" width="9.6" height="9.95" fill="#ff6600"/>
<rect x="232.7" y="685.8" width="31.9" height="9.95" fill="#ffb080"/>
<rect x="266.7" y="685.8" width="2.6" height="9.95" fill="#ffb080"/>
<rect x="273.6" y="685.8" width="7.2" height="9.95" fill="#ffb080"/>
<rect x="223.1" y="695.6" width="11.9" height="9.95" fill="#f09aa0"/>
<path d="M53.8,803 55.84,803.14 67.52,803.14 69.85,802.55 71.9,802.26 76.28,802.55 82.12,802.55 85.04,802.85 87.96,801.97 90.29,802.55 92.34,801.39 93.8,801.97 95.26,802.26 97.3,801.39 99.64,801.97 101.97,802.55 104.01,800.8 105.18,801.97 106.06,802.55 109.85,802.55 112.77,801.97 114.23,800.22 115.69,798.18 116.57,796.72 117.45,795.84 118.61,798.18 119.49,800.22 120.66,801.97 121.53,802.55 125.91,802.85 131.75,802.85 137.59,803.14 143.43,802.85 147.81,803.14 150.73,802.85 152.77,802.55 153.65,801.97 154.82,800.8 155.69,800.22 156.57,801.68 157.45,802.55 158.61,801.09 159.49,799.64 160.36,796.13 160.95,793.8 161.82,795.84 162.41,797.3 163.28,795.26 164.16,792.92 165.04,796.13 165.62,799.05 166.5,800.51 167.37,801.39 168.54,802.55 169.71,802.85 172.04,802.85 174.09,802.55 175.26,800.22 176.13,798.18 177.01,796.42 177.59,795.84 178.47,797.3 179.34,799.05 180.51,801.09 181.39,801.97 182.26,800.8 183.14,800.22 184.01,801.39 184.89,801.97 186.06,801.09 187.23,800.8 188.39,801.97 189.56,802.55 191.31,801.97 193.07,801.97 195.99,801.97 198.91,801.68 201.24,801.39 203.28,801.09 204.74,799.93 206.2,798.18 207.37,795.55 208.54,792.34 209.42,787.37 210.29,782.12 211.17,786.5 212.04,790.88 212.92,794.38 214.09,796.72 215.26,798.18 216.42,799.05 217.59,799.93 218.76,800.22 219.64,796.13 220.22,790.88 220.8,782.12 221.39,773.36 221.97,763.14 222.26,758.18 222.85,766.06 223.43,776.28 224.01,786.5 224.6,792.34 225.18,783.58 225.77,775.69 226.35,782.12 226.93,787.96 227.81,789.71 228.69,790.88 229.56,795.26 230.44,798.18 231.31,799.64 232.48,800.22 233.36,799.64 234.53,799.64 235.69,801.39 236.86,802.55 238.32,802.85 239.78,802.55 240.95,801.09 242.12,799.64 242.99,801.09 243.58,801.97 244.45,799.64 245.04,797.3 245.91,799.64 246.79,801.09 247.66,799.64 248.54,798.18 249.42,799.93 250,801.09 251.09,797.74 251.97,796.28 252.85,798.61 253.72,800.66 254.89,800.95 256.06,801.53 257.52,800.36 258.98,798.61 259.85,797.45 261.02,796.86 261.9,798.61 262.77,800.66 264.53,801.24 266.28,801.53 267.74,800.66 269.2,800.36 270.66,801.24 272.12,801.53 273.58,800.36 275.04,799.78 276.5,799.2 277.96,798.32 278.83,800.07 279.71,801.53 281.75,802.12 283.8,802.12 286.72,801.53 289.64,801.82 292.55,802.41 295.47,802.41 296.93,801.82 298.39,801.53 299.85,800.66 301.31,800.36 302.48,799.49 303.65,799.2 304.82,800.66 305.69,801.53 307.15,800.66 308.61,800.36 310.07,801.53 311.53,802.12 312.99,801.24 314.45,800.95 315.91,801.53 317.37,801.82 319.42,800.95 321.75,800.66 323.21,801.24 324.67,801.53 325.84,799.78 327.01,798.61 327.88,798.03 328.76,797.74 329.64,799.2 330.51,800.36 331.39,799.2 332.26,798.32 333.43,797.45 334.31,797.15 335.18,799.2 336.35,800.95 337.81,799.78 339.27,799.2 340.44,800.36 341.61,800.95 343.36,801.24 345.11,801.53 347.45,800.95 349.49,800.66 351.53,801.53 353.87,802.12 355.33,801.53 356.79,801.24 359.12,801.82 361.17,802.12 363.21,801.24 365.55,800.95 367.88,801.82 369.93,802.12 371.97,802.12 374.31,802.12 375.77,800.66 377.23,799.2 378.1,798.32 378.98,798.03 380.15,799.78 381.02,800.95 382.48,801.24 383.65,801.53 384.82,800.36 385.99,799.78 387.15,800.66 388.32,800.95 389.49,799.78 390.36,799.2 391.82,800.66 393.28,801.53 394.74,800.66 396.2,800.36 397.66,800.95 399.12,800.95 400.58,799.78 402.04,799.2 403.21,798.03 404.38,797.45 405.84,798.61 407.01,799.2 408.18,798.61 409.34,798.61 410.8,799.78 412.26,800.36 413.72,799.78 415.18,799.78 416.93,800.95 418.69,801.53 420.44,800.95 422.48,800.95 424.53,801.82 426.86,802.12 429.2,801.53 431.24,801.24 433.28,801.82 435.62,802.12 437.96,801.53 440,801.53 443.43,802.57 450.15,802.91 456.86,802.24 461.9,801.23 464.25,800.89 466.94,802.57 473.65,802.91 480.37,802.57 487.09,802.91 493.8,802.24 500.52,802.57 507.23,801.9 510.59,801.56 513.95,802.57 520.66,802.91 527.38,802.91 534.1,802.57 540.81,802.24 545.85,801.56 548.2,801.9 550.89,802.57 557.6,802.91 561.63,801.56 564.32,800.89 567.68,801.9 571.03,801.56 574.39,802.57 581.11,802.91 587.82,802.24 591.18,802.57 594.54,801.9 597.9,802.91 604.61,802.91 609.65,802.24 614.69,802.57 621.4,802.24 628.12,801.9 631.48,800.89 633.83,800.22 636.18,801.23 639.87,801.9 644.91,802.57 650.95,802.91" fill="none" stroke="#222" stroke-width="0.6" stroke-linejoin="round"/>
<path d="M349.99,801.11 352.03,801.98 354.37,802.57 355.83,801.98 357.29,801.69 359.62,802.27 361.67,802.57 363.71,801.69 366.05,801.4 368.38,802.27 370.43,802.57 372.47,802.57 374.81,802.57 376.27,801.11 377.73,799.65 378.6,798.77 379.48,798.48 380.65,800.23 381.52,801.4 382.98,801.69 384.15,801.98 385.32,800.81 386.49,800.23 387.65,801.11 388.82,801.4 389.99,800.23 390.86,799.65 392.32,801.11 393.78,801.98 395.24,801.11 396.7,800.81 398.16,801.4 399.62,801.4 401.08,800.23 402.54,799.65 403.71,798.48 404.88,797.9 406.34,799.06 407.51,799.65 408.68,799.06 409.84,799.06 411.3,800.23 412.76,800.81 414.22,800.23 415.68,800.23 417.43,801.4 419.19,801.98 420.94,801.4 422.98,801.4 425.03,802.27 427.36,802.57 429.7,801.98 431.74,801.69 433.78,802.27 436.12,802.57 438.46,801.98 440.5,801.98 443.93,803.02 450.65,803.36 457.36,802.69 462.4,801.68 464.75,801.34 467.44,803.02 474.15,803.36 480.87,803.02 487.59,803.36 494.3,802.69 501.02,803.02 507.73,802.35 511.09,802.01 514.45,803.02 521.16,803.36 527.88,803.36 534.6,803.02 541.31,802.69 546.35,802.01 548.7,802.35 551.39,803.02 558.1,803.36 562.13,802.01 564.82,801.34 568.18,802.35 571.53,802.01 574.89,803.02 581.61,803.36 588.32,802.69 591.68,803.02 595.04,802.35 598.4,803.36 605.11,803.36 610.15,802.69 615.19,803.02 621.9,802.69 628.62,802.35 631.98,801.34 634.33,800.67 636.68,801.68 640.37,802.35 645.41,803.02 651.45,803.36" fill="none" stroke="#222" stroke-width="0.6" stroke-linejoin="round"/>
<rect x="417.2" y="678.3" width="178.5" height="25.9" fill="#8a8378" stroke="#6e685f" stroke-width="0.5"/>
<rect x="376.1" y="704.2" width="263.3" height="38.8" fill="#6c8388" stroke="#3f4f53" stroke-width="0.8"/>
<path d="M380.5 723.7 L389 710.95 L417.4 710.95 L424 721.45 L507.75 721.45 M507.75 725.95 L424 725.95 L417.4 736.45 L389 736.45 L380.5 723.7 M385.3 723.7 L389.7 717.05 L416.4 717.05 L418.9 721.45 L407.7 721.45 L407.7 725.95 L418.9 725.95 L416.4 730.35 L389.7 730.35Z" fill="none" stroke="#2c3a3e" stroke-width="0.75" stroke-linejoin="round"/>
<circle cx="382.9" cy="723.9" r="0.9" fill="#dfe6e8"/>
<circle cx="410" cy="723.9" r="0.9" fill="#dfe6e8"/>
<path d="M635 723.7 L626.5 710.95 L598.1 710.95 L591.5 721.45 L507.75 721.45 M507.75 725.95 L591.5 725.95 L598.1 736.45 L626.5 736.45 L635 723.7 M630.2 723.7 L625.8 717.05 L599.1 717.05 L596.6 721.45 L607.8 721.45 L607.8 725.95 L596.6 725.95 L599.1 730.35 L625.8 730.35Z" fill="none" stroke="#2c3a3e" stroke-width="0.75" stroke-linejoin="round"/>
<circle cx="632.6" cy="723.9" r="0.9" fill="#dfe6e8"/>
<circle cx="605.5" cy="723.9" r="0.9" fill="#dfe6e8"/>
<path d="M376.1 744V757.1M639.4 744V757.1" fill="none" stroke="#777" stroke-width="0.7" stroke-dasharray="1.6 1.8"/>
<path d="M376.5 757.1H639M378.7 755.7L376.5 757.1L378.7 758.5M636.8 755.7L639 757.1L636.8 758.5" fill="none" stroke="#333" stroke-width="0.7"/>
<text x="499.3" y="768.2" font-family='"Liberation Serif", serif' font-size="14.4" textLength="53.4" lengthAdjust="spacing" fill="#111">L=56mm</text>
<!-- panel e -->
<g transform="translate(0,861.5)">
<text transform="translate(351.4,12.6) scale(1.27,1)" x="0" y="0" text-anchor="middle" font-family='"Liberation Serif", serif' font-weight="bold" font-size="15.2" letter-spacing="0.305" fill="#000">Normalized differential spectrum (NDS) and FocuScan</text>
<path d="M53.5 160.2V23.5" fill="none" stroke="#585858" stroke-width="0.6"/>
<path d="M53.5 23.5H650.0" fill="none" stroke="#c0c0c0" stroke-width="1"/>
<path d="M650.0 23.5V160.2" fill="none" stroke="#b0b0b0" stroke-width="0.9"/>
<path d="M53.5 160.2H650.0" fill="none" stroke="#707070" stroke-width="0.6"/>
<path d="M53.5 160.2v6.3M99.38 160.2v6.3M145.27 160.2v6.3M191.15 160.2v6.3M237.04 160.2v6.3M282.92 160.2v6.3M328.81 160.2v6.3M374.69 160.2v6.3M420.58 160.2v6.3M466.46 160.2v6.3M512.35 160.2v6.3M558.23 160.2v6.3M604.12 160.2v6.3M650 160.2v6.3M53.5 160.2h-6.3M53.5 140.55h-6.3M53.5 120.9h-6.3M53.5 101.25h-6.3M53.5 81.6h-6.3M53.5 61.95h-6.3" fill="none" stroke="#707070" stroke-width="0.65"/>
<g font-family='"Liberation Sans", sans-serif' font-size="13" fill="#141414" stroke="#141414" stroke-width="0.15">
<text x="53.5" y="183.2" text-anchor="middle">1.5</text>
<text x="99.38" y="183.2" text-anchor="middle">1.6</text>
<text x="145.27" y="183.2" text-anchor="middle">1.7</text>
<text x="191.15" y="183.2" text-anchor="middle">1.8</text>
<text x="237.04" y="183.2" text-anchor="middle">1.9</text>
<text x="282.92" y="183.2" text-anchor="middle">2</text>
<text x="328.81" y="183.2" text-anchor="middle">2.1</text>
<text x="374.69" y="183.2" text-anchor="middle">2.2</text>
<text x="420.58" y="183.2" text-anchor="middle">2.3</text>
<text x="466.46" y="183.2" text-anchor="middle">2.4</text>
<text x="512.35" y="183.2" text-anchor="middle">2.5</text>
<text x="558.23" y="183.2" text-anchor="middle">2.6</text>
<text x="604.12" y="183.2" text-anchor="middle">2.7</text>
<text x="650" y="183.2" text-anchor="middle">2.8</text>
<text x="42.7" y="164.9" text-anchor="end">0</text>
<text x="42.7" y="145.25" text-anchor="end">0.2</text>
<text x="42.7" y="125.6" text-anchor="end">0.4</text>
<text x="42.7" y="105.95" text-anchor="end">0.6</text>
<text x="42.7" y="86.3" text-anchor="end">0.8</text>
<text x="42.7" y="66.65" text-anchor="end">1</text>
</g>
<text transform="translate(351,199.1) scale(1.06,1)" text-anchor="middle" font-family='"Liberation Serif", serif' font-size="14.1" letter-spacing="0.12" fill="#333">Frequency [MHz]</text>
<g transform="translate(17.4,91.1) rotate(-90) scale(1.1,1)" font-family='"Liberation Serif", serif' font-size="15.5" fill="#2a2a2a" stroke="#2a2a2a" stroke-width="0.15">
<text x="-59.51" y="0" letter-spacing="0.41">|<tspan font-style="italic">Zw</tspan> &#x2212; <tspan font-style="italic">Zcscl</tspan>| / |<tspan font-style="italic">Zw</tspan>|</text>
<text x="-50.1" y="-4.6" text-anchor="middle" font-size="14">&#x2C6;</text>
<text x="-12.55" y="-4.6" text-anchor="middle" font-size="14">&#x2C6;</text>
<text x="42.55" y="-4.6" text-anchor="middle" font-size="14">&#x2C6;</text>
</g>
<text x="59.0" y="44.1" font-family='"Liberation Serif", serif' font-size="16" fill="#000">(e)</text>
<text transform="translate(650.5,30.7) scale(1.035,0.9)" font-family='"Liberation Sans", sans-serif' font-size="13.2" fill="#00008b" stroke="#00008b" stroke-width="0.2">8 Vpp</text>
<text transform="translate(650.5,41.35) scale(1.035,0.9)" font-family='"Liberation Sans", sans-serif' font-size="13.2" fill="#0a8a0a" stroke="#0a8a0a" stroke-width="0.2">6 Vpp</text>
<text transform="translate(650.5,52) scale(1.035,0.9)" font-family='"Liberation Sans", sans-serif' font-size="13.2" fill="#ff7a1a" stroke="#ff7a1a" stroke-width="0.2">4 Vpp</text>
<text transform="translate(650.5,62.65) scale(1.035,0.9)" font-family='"Liberation Sans", sans-serif' font-size="13.2" fill="#ff0000" stroke="#ff0000" stroke-width="0.2">2 Vpp</text>
</g>
<rect x="170" y="884.7" width="2.3" height="9.95" fill="#5e5eb8"/>
<rect x="172.3" y="884.7" width="195.8" height="9.95" fill="#000080"/>
<rect x="368.1" y="884.7" width="4.7" height="9.95" fill="#5e5eb8"/>
<rect x="375.1" y="884.7" width="4.4" height="9.95" fill="#5e5eb8"/>
<rect x="172.3" y="894.5" width="1.7" height="9.95" fill="#5aae5a"/>
<rect x="174" y="894.5" width="33.3" height="9.95" fill="#008000"/>
<rect x="207.3" y="894.5" width="8.8" height="9.95" fill="#5aae5a"/>
<rect x="216.1" y="894.5" width="67" height="9.95" fill="#008000"/>
<rect x="283.1" y="894.5" width="1.8" height="9.95" fill="#5aae5a"/>
<rect x="284.9" y="894.5" width="35" height="9.95" fill="#008000"/>
<rect x="319.9" y="894.5" width="18.1" height="9.95" fill="#5aae5a"/>
<rect x="338" y="894.5" width="28" height="9.95" fill="#008000"/>
<rect x="366" y="894.5" width="2.1" height="9.95" fill="#5aae5a"/>
<rect x="174.9" y="904.3" width="11.9" height="9.95" fill="#ff6600"/>
<rect x="186.8" y="904.3" width="31.9" height="9.95" fill="#ffb080"/>
<rect x="218.7" y="904.3" width="11.4" height="9.95" fill="#ff6600"/>
<rect x="230.1" y="904.3" width="7" height="9.95" fill="#ffb080"/>
<rect x="237.1" y="904.3" width="11.9" height="9.95" fill="#ff6600"/>
<rect x="249" y="904.3" width="10.9" height="9.95" fill="#ffb080"/>
<rect x="259.9" y="904.3" width="7.3" height="9.95" fill="#ff6600"/>
<rect x="267.2" y="904.3" width="1.8" height="9.95" fill="#ffb080"/>
<rect x="269" y="904.3" width="9.4" height="9.95" fill="#ff6600"/>
<rect x="278.4" y="904.3" width="4.7" height="9.95" fill="#ffb080"/>
<rect x="285.2" y="904.3" width="4.6" height="9.95" fill="#ffb080"/>
<rect x="289.8" y="904.3" width="21.4" height="9.95" fill="#ff6600"/>
<rect x="311.2" y="904.3" width="8.7" height="9.95" fill="#ffb080"/>
<rect x="338" y="904.3" width="7" height="9.95" fill="#ffb080"/>
<rect x="345" y="904.3" width="14.3" height="9.95" fill="#ff6600"/>
<rect x="359.3" y="904.3" width="6.7" height="9.95" fill="#ffb080"/>
<rect x="177" y="914.1" width="4.9" height="9.95" fill="#ff0000"/>
<rect x="181.9" y="914.1" width="2.3" height="9.95" fill="#f09aa0"/>
<rect x="237.1" y="914.1" width="9.1" height="9.95" fill="#f09aa0"/>
<rect x="271.3" y="914.1" width="2.6" height="9.95" fill="#f09aa0"/>
<rect x="299.3" y="914.1" width="4.3" height="9.95" fill="#f09aa0"/>
<path d="M53.5,1021.3 90,1021.31 95.84,1021.31 100.22,1021.02 101.39,1019.85 102.26,1018.39 102.85,1015.47 103.43,1013.43 104.01,1016.06 104.6,1018.39 105.47,1019.85 106.06,1020.44 108.1,1021.02 110.44,1021.31 114.82,1021.31 119.2,1021.02 122.12,1021.02 125.04,1020.73 128.54,1021.31 132.34,1021.31 133.8,1020.73 135.26,1020.44 136.42,1019.27 137.3,1017.81 138.18,1015.47 138.76,1017.23 139.05,1018.39 139.64,1014.89 140.22,1017.81 140.51,1019.85 141.68,1020.44 142.55,1020.44 143.43,1019.27 144.01,1018.39 144.89,1019.85 145.47,1020.73 147.81,1021.02 149.85,1021.02 152.19,1020.44 154.23,1019.85 155.4,1018.39 156.57,1016.93 157.45,1014.01 158.32,1011.68 159.2,1014.31 160.07,1016.93 161.24,1019.27 162.41,1020.73 164.45,1021.31 165.91,1020.73 167.37,1019.85 168.83,1017.81 170.29,1015.47 171.17,1011.97 171.75,1006.72 172.34,1002.34 172.92,999.42 173.5,999.71 174.09,1000.88 174.67,995.62 175.26,989.2 175.84,983.36 176.42,979.56 177.01,984.82 177.59,992.12 178.18,1000.29 178.76,1006.72 179.34,1011.09 179.93,1014.01 180.51,1011.97 181.09,1010.22 181.97,1013.14 182.85,1015.47 183.72,1017.23 184.6,1018.39 185.18,1016.93 185.77,1016.06 186.64,1018.1 187.23,1019.27 188.39,1018.69 189.27,1018.39 190.44,1017.52 191.61,1016.93 192.77,1015.18 193.94,1013.43 194.82,1015.18 195.69,1016.35 196.57,1015.77 197.45,1015.47 198.61,1013.72 199.49,1012.55 200.36,1014.89 200.95,1016.93 201.82,1018.98 202.41,1020.44 203.87,1020.15 205.33,1019.85 206.79,1020.73 208.25,1021.31 209.71,1020.73 211.17,1020.44 212.63,1020.15 214.09,1019.85 215.26,1017.81 216.13,1016.06 217.01,1015.18 217.88,1014.6 218.76,1017.52 219.34,1019.85 220.22,1017.81 220.8,1016.06 221.97,1018.1 222.85,1019.85 224.01,1018.69 224.89,1017.81 226.06,1018.69 227.23,1019.27 228.69,1019.85 230.15,1020.15 231.31,1018.1 232.48,1015.47 233.36,1011.39 234.23,1006.72 234.82,1002.92 235.4,1000 235.99,1003.21 236.57,1006.72 237.15,1010.51 237.74,1014.01 238.32,1008.18 238.61,1003.8 239.2,1009.05 239.78,1014.01 240.36,1016.64 240.66,1018.39 241.24,1016.06 241.82,1014.01 242.7,1016.35 243.28,1017.81 244.45,1018.98 245.33,1019.85 247.08,1020.15 249.12,1020.44 251.17,1020.73 253.5,1020.73 255.84,1020.44 257.88,1020.15 259.93,1020.73 262.26,1021.02 263.72,1020.44 265.18,1019.85 266.93,1020.44 268.69,1020.73 270.15,1019.85 271.61,1019.27 272.48,1018.39 273.36,1017.52 274.23,1018.69 275.11,1019.85 276.86,1019.56 278.32,1019.27 279.78,1019.85 281.24,1020.44 282.7,1019.27 284.16,1018.39 285.33,1019.27 286.2,1019.85 287.37,1018.98 288.54,1018.39 290,1019.27 290.22,1018.83 291.68,1019.71 293.14,1020.29 294.6,1019.42 296.06,1018.54 297.23,1016.5 298.1,1015.04 298.98,1015.62 299.85,1016.5 301.02,1017.96 301.9,1018.83 303.36,1017.96 304.82,1017.37 306.28,1017.96 307.74,1018.54 309.2,1018.25 310.66,1017.96 312.12,1019.12 313.58,1019.71 315.04,1019.12 316.5,1018.54 317.96,1018.25 319.42,1017.96 320.88,1018.54 322.34,1019.12 323.8,1018.54 325.26,1018.25 326.72,1019.42 328.18,1020 329.64,1019.12 331.09,1018.54 332.55,1019.12 334.01,1019.42 335.47,1018.54 336.93,1017.96 338.39,1018.54 339.85,1018.83 341.31,1017.96 342.77,1017.37 344.23,1018.25 345.69,1018.54 347.15,1017.37 348.61,1016.5 349.49,1014.45 350.07,1011.53 350.95,1008.61 351.53,1006.28 352.12,1005.11 352.7,1004.82 353.28,1006.86 353.87,1009.2 354.74,1012.41 355.33,1015.04 356.5,1016.79 357.37,1017.96 358.83,1018.54 360.29,1018.83 361.75,1017.96 363.21,1017.37 364.67,1018.25 366.13,1018.83 368.18,1019.12 370.51,1019.42 372.85,1018.83 374.89,1018.54 376.93,1018.25 379.27,1017.96 381.61,1018.54 383.65,1018.83 385.11,1018.25 386.57,1017.96 387.74,1018.83 388.61,1019.42 389.49,1017.96 390.36,1016.5 391.24,1014.16 391.82,1012.7 392.7,1014.74 393.28,1016.5 394.45,1015.91 395.33,1015.62 396.5,1017.08 397.37,1017.96 398.54,1017.66 399.71,1017.37 401.17,1018.54 402.63,1019.42 404.96,1019.12 407.01,1018.83 408.47,1019.42 409.93,1019.71 411.97,1020 414.31,1020.29 417.23,1020 420.15,1020 423.07,1020.29 425.99,1020.58 428.91,1020.29 431.82,1020.29 434.74,1020.58 437.66,1020.58 443.5,1020.58 447.88,1020.58 450.8,1020.29 451.97,1019.71 452.85,1019.12 453.72,1019.71 454.6,1020.29 458.1,1020.58 461.02,1020.58 469.78,1020.88 480,1020.88 500,1021 540,1021.2 580,1021 620,1021.2 650,1021.2" fill="none" stroke="#222" stroke-width="0.6" stroke-linejoin="round"/>
<rect x="429.2" y="966.2" width="182.5" height="32" fill="#8e8b85" stroke="#4a4a4a" stroke-width="0.7"/>
<rect x="471.5" y="951.4" width="140.2" height="14.8" fill="#cfd8df" stroke="#4a4a4a" stroke-width="0.7"/>
<rect x="471.5" y="913.3" width="140.2" height="38.1" fill="#cfd8df" stroke="#4a4a4a" stroke-width="0.7"/>
<path d="M471.5 913.3V966.2" stroke="#3a3a3a" stroke-width="1.1" fill="none"/>
<path d="M526.4 951.4H556.9C556.6 955.4 554.4 957.2 551 957.2H532.3C528.9 957.2 526.7 955.4 526.4 951.4Z" fill="#fff" stroke="#333" stroke-width="0.8"/>
<path d="M468 913.6V951M466.4 916.2L468 913.4L469.6 916.2M466.4 948.6L468 951.4L469.6 948.6" fill="none" stroke="#222" stroke-width="0.7"/>
<g font-family='"Liberation Serif", serif' fill="#111">
<text x="384.4" y="936.2" font-size="17.2" textLength="79.8" lengthAdjust="spacing">H<tspan font-size="9" dy="1.5">gl</tspan><tspan dy="-1.5">= 0.7mm</tspan></text>
<text x="417.1" y="961.1" font-size="14.2" textLength="31" lengthAdjust="spacing">Glass</text>
<text x="555.2" y="927.4" font-size="14.2" textLength="50.4" lengthAdjust="spacing">Glass lid</text>
<text x="573.2" y="991.6" font-size="14.2" textLength="31.4" lengthAdjust="spacing">Piezo</text>
</g>
<path d="M456.2 961H478.3M475.9 959.2L478.4 961L475.9 962.8" fill="none" stroke="#222" stroke-width="0.7"/>
</svg></body></html>
